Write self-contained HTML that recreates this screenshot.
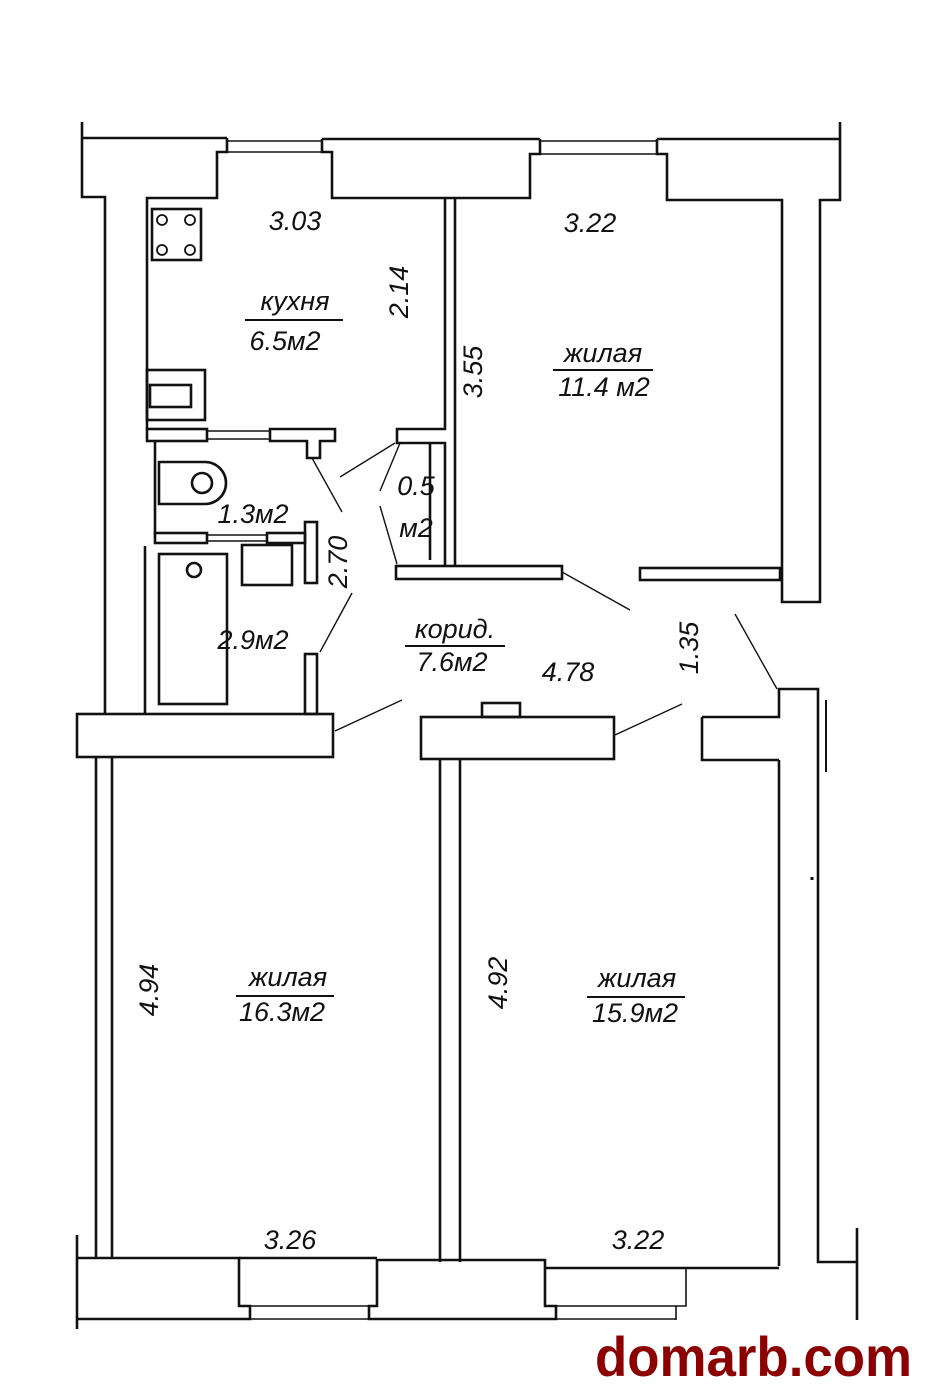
<!DOCTYPE html>
<html><head><meta charset="utf-8"><style>
html,body{margin:0;padding:0;background:#fff;}
svg{display:block;}
text{font-family:"Liberation Sans","DejaVu Sans",sans-serif;font-style:italic;font-size:27px;fill:#111;text-anchor:middle;}
</style></head><body>
<svg width="928" height="1395" viewBox="0 0 928 1395" xmlns="http://www.w3.org/2000/svg">
<g fill="none" stroke="#111" stroke-width="2.6" stroke-linejoin="miter">
<path d="M82,122 V197 H105 V714"/>
<path d="M82,138 H227 M322,139 H540 M657,139 H840"/>
<path d="M227,141 H322 M227,152 H322 M540,141 H657 M540,154 H657" stroke-width="1.6"/>
<path d="M227,138 V152 H217 V198 H147 V429"/>
<path d="M322,139 V152 H332 V198 H530 V154 H540 V139"/>
<path d="M657,139 V154 H667 V200 H782 V602 H820 V200 H840 V122"/>
<path d="M445,198 V429 H397 V443 H445 V566"/>
<path d="M455,198 V566"/>
<path d="M430,443 V560"/>
<rect x="396" y="566" width="166" height="13"/>
<rect x="640" y="568" width="140" height="12"/>
<rect x="147" y="429" width="60" height="12"/>
<path d="M207,431 H270 M207,439 H270" stroke-width="1.5"/>
<path d="M270,429 H335 V441 H320 V458 H307 V441 H270 Z"/>
<rect x="152" y="209" width="49" height="51"/>
<circle cx="162" cy="220" r="5" stroke-width="1.8"/><circle cx="190" cy="220" r="5" stroke-width="1.8"/>
<circle cx="162" cy="250" r="5" stroke-width="1.8"/><circle cx="190" cy="250" r="5" stroke-width="1.8"/>
<rect x="147" y="370" width="58" height="50"/>
<rect x="150" y="385" width="41" height="22"/>
<path d="M155,441 V535"/>
<path d="M159,462 H205 A21,21 0 0 1 205,504 H159 Z"/>
<circle cx="202" cy="483" r="10"/>
<rect x="155" y="533" width="52" height="10"/>
<path d="M207,535 H267 M207,541 H267" stroke-width="1.5"/>
<rect x="267" y="533" width="38" height="10"/>
<rect x="305" y="522" width="12" height="61"/>
<path d="M145,546 V714"/>
<rect x="159" y="554" width="68" height="150"/>
<circle cx="194" cy="570" r="7"/>
<rect x="242" y="545" width="50" height="40"/>
<rect x="305" y="654" width="12" height="60"/>
<g stroke-width="1.4">
<path d="M395,443 L340,477"/>
<path d="M312,458 L342,512"/>
<path d="M400,443 L380,491 M380,506 L397,564"/>
<path d="M320,652 L352,593"/>
<path d="M335,731 L402,700"/>
<path d="M615,735 L682,704"/>
<path d="M562,572 L630,610"/>
<path d="M735,614 L777,689"/>
</g>
<rect x="77" y="714" width="256" height="43"/>
<rect x="421" y="717" width="193" height="42"/>
<rect x="482" y="703" width="38" height="14"/>
<path d="M702,717 H779 V689 H818 V763 M702,717 V760 H779"/>
<path d="M826,700 V772" stroke-width="2"/>
<path d="M96,757 V1258 M112,757 V1258"/>
<path d="M440,759 V1262 M460,759 V1262"/>
<path d="M779,760 V1266"/>
<path d="M818,763 V1262 H857 M857,1228 V1320"/>
<path d="M77,1235 V1329"/>
<path d="M77,1258 H239 V1306 H250 V1319 H77"/>
<path d="M250,1306 H369 M250,1319 H369" stroke-width="1.6"/>
<path d="M377,1260 H545 V1306 H556 V1319 H369 V1306 H377 Z"/>
<path d="M239,1258 H377"/>
<path d="M545,1268 H779"/>
<path d="M686,1268 V1306 H676 V1320 M556,1306 H676 M556,1319 H676" stroke-width="1.6"/>
<path d="M812,877 L812,880" stroke-width="3"/>
</g>
<text x="295" y="230">3.03</text>
<text x="590" y="232">3.22</text>
<text x="295" y="310">кухня</text>
<line x1="245" y1="320" x2="343" y2="320" stroke="#111" stroke-width="2"/>
<text x="285" y="350">6.5м2</text>
<text transform="translate(408,292) rotate(-90)">2.14</text>
<text transform="translate(482,372) rotate(-90)">3.55</text>
<text x="603" y="362">жилая</text>
<line x1="553" y1="370" x2="653" y2="370" stroke="#111" stroke-width="2"/>
<text x="604" y="396">11.4 м2</text>
<text x="416" y="495">0.5</text>
<text x="416" y="537">м2</text>
<text x="253" y="523">1.3м2</text>
<text transform="translate(347,562) rotate(-90)">2.70</text>
<text x="253" y="649">2.9м2</text>
<text x="455" y="638">корид.</text>
<line x1="405" y1="646" x2="505" y2="646" stroke="#111" stroke-width="2"/>
<text x="452" y="671">7.6м2</text>
<text x="568" y="681">4.78</text>
<text transform="translate(698,648) rotate(-90)">1.35</text>
<text transform="translate(158,990) rotate(-90)">4.94</text>
<text x="288" y="986">жилая</text>
<line x1="236" y1="996" x2="334" y2="996" stroke="#111" stroke-width="2"/>
<text x="282" y="1021">16.3м2</text>
<text transform="translate(507,983) rotate(-90)">4.92</text>
<text x="637" y="987">жилая</text>
<line x1="587" y1="997" x2="685" y2="997" stroke="#111" stroke-width="2"/>
<text x="635" y="1022">15.9м2</text>
<text x="290" y="1249">3.26</text>
<text x="638" y="1249">3.22</text>
<text x="595" y="1376" textLength="317" lengthAdjust="spacingAndGlyphs" style="text-anchor:start;font-style:normal;font-weight:bold;font-size:56px;fill:#8b0000;">domarb.com</text>
</svg>
</body></html>
